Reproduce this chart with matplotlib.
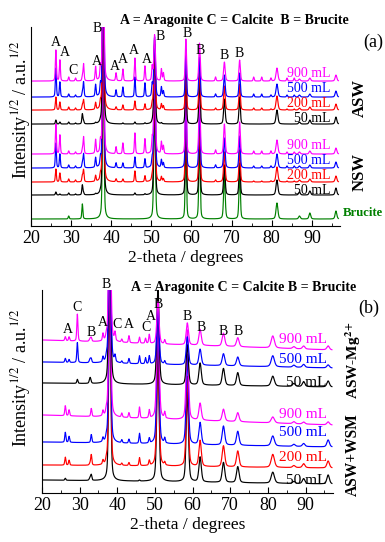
import numpy as np
import matplotlib
matplotlib.use('Agg')
import matplotlib.pyplot as plt
from matplotlib.ticker import MultipleLocator

plt.rcParams['font.family'] = ['Liberation Serif', 'DejaVu Serif']
plt.rcParams['mathtext.fontset'] = 'stix'

# ---- peak positions (2-theta, degrees) ----
arag_a = [26.2, 27.2, 29.4, 31.1, 33.1, 36.1, 37.3, 41.2, 42.9, 45.9,
          48.4, 50.2, 52.5, 53.0, 66.0, 75.5, 77.5, 79.8, 83.8, 85.6]
arag_b = [26.2, 27.2, 29.4, 33.1, 36.2, 37.1, 39.4, 41.2, 43.1, 45.9,
          47.5, 48.5, 52.6]
bruc = [32.8, 38.0, 50.8, 58.6, 62.0, 68.2, 72.0, 81.3, 86.9, 89.5, 96.0]

# ---- panel (a): peak heights (sqrt counts, plot units) ----
a_asw900 = [31, 21, 4, 3, 17, 14, 12, 8, 12, 23, 15, 14, 12, 8, 4, 4, 4, 3, 3, 3]
a_asw500 = [29, 15, 3, 2, 15, 12, 10, 7, 10, 20, 14, 12, 10, 6, 3, 3, 3, 2, 2, 2]
a_asw200 = [13, 8, 3, 2, 10, 7, 6, 3, 5, 9, 6, 6, 6, 4, 2, 2, 2, 1, 1, 1]
a_asw50 = [4, 2, 2, 1, 3, 1, 1, 0, 1, 2, 1, 1, 1, 0, 0, 0, 0, 0, 0, 0]
a_nsw900 = [30, 19, 3, 2, 17, 14, 11, 7, 11, 21, 15, 14, 12, 8, 4, 3, 3, 3, 2, 2]
a_nsw500 = [25, 14, 3, 2, 14, 10, 8, 5, 5, 11, 9, 8, 8, 5, 3, 2, 2, 2, 2, 2]
a_nsw200 = [13, 9, 3, 2, 12, 6, 5, 3, 3, 11, 6, 5, 5, 3, 2, 1, 1, 1, 1, 1]
a_nsw50 = [3, 1, 2, 1, 2, 1, 1, 0, 0, 2, 1, 0, 0, 0, 0, 0, 0, 0, 0, 0]
a_bruc = [0, 0, 3, 0, 0, 0, 0, 0, 0, 0, 0, 0, 0, 0, 0, 0, 0, 0, 0, 0]

b_asw900 = [4, 200, 46, 42, 38, 19, 21, 13, 2, 3, 6]
b_asw500 = [4, 200, 60, 48, 40, 22, 24, 13, 2, 3, 6]
b_asw200 = [5, 200, 70, 50, 42, 24, 26, 14, 2, 3, 6]
b_asw50 = [10, 200, 80, 55, 45, 25, 27, 14, 2, 4, 7]
b_nsw900 = [4, 200, 100, 80, 60, 30, 32, 14, 2, 3, 6]
b_nsw500 = [5, 200, 100, 80, 60, 30, 32, 14, 2, 3, 6]
b_nsw200 = [6, 200, 100, 80, 60, 30, 32, 15, 2, 3, 6]
b_nsw50 = [10, 200, 100, 80, 60, 30, 32, 15, 3, 4, 7]
b_bruc = [15, 200, 120, 90, 75, 45, 48, 16, 3, 6, 8]

# ---- panel (b): peak heights ----
m_900_ac = [4, 4, 27, 3, 7, 4, 8, 3, 7, 6, 5, 9, 4]
m_500_ac = [4, 3, 20, 3, 5, 3, 6, 2, 5, 8, 6, 8, 3]
m_50_ac = [0, 0, 4, 0, 0, 0, 0, 0, 0, 0, 0, 0, 0]
w_900_ac = [10, 6, 0, 8, 5, 5, 0, 4, 5, 11, 0, 8, 6]
w_500_ac = [10, 6, 0, 8, 4, 4, 0, 3, 4, 10, 0, 5, 5]
w_200_ac = [8, 5, 0, 10, 4, 3, 0, 2, 3, 8, 0, 5, 3]
w_50_ac = [2, 0, 0, 5, 0, 0, 0, 0, 0, 1, 0, 0, 0]

m_900_b = [3, 200, 42, 22, 16, 13, 9, 12, 2, 3, 4]
m_500_b = [4, 200, 60, 28, 16, 12, 9, 11, 2, 3, 3]
m_50_b = [6, 200, 100, 40, 22, 17, 13, 10, 3, 5, 6]
w_900_b = [0, 200, 130, 90, 17, 12, 9, 6, 2, 2, 3]
w_500_b = [0, 200, 130, 90, 22, 19, 14, 10, 2, 3, 7]
w_200_b = [2, 200, 130, 90, 26, 21, 16, 13, 2, 4, 7]
w_50_b = [3, 200, 130, 90, 25, 20, 16, 11, 2, 5, 9]

# peak widths (FWHM, degrees)
wid_arag_a = 0.3
wid_bruc_a = [0.3, 0.4, 0.45, 0.35, 0.4, 0.45, 0.4, 0.55, 0.5, 0.5, 0.5]
wid_arag_b = 0.35
wid_bruc_b = [0.5, 0.6, 0.7, 0.7, 0.75, 0.8, 0.8, 1.0, 0.8, 0.8, 0.8]


def pattern(x, pos, hts, wid):
    y = np.zeros_like(x)
    wid = np.broadcast_to(wid, (len(pos),))
    for p, h, w in zip(pos, hts, wid):
        d = (x - p) / w
        y += h * (0.6 * np.exp(-4 * np.log(2) * d ** 2) + 0.4 / (1 + 4 * d ** 2))
    return y


fig = plt.figure(figsize=(3.85, 5.42), dpi=100)
ax1 = fig.add_axes([0.0805, 0.583, 0.8025, 0.367])
ax2 = fig.add_axes([0.109, 0.0904, 0.756, 0.3746])

# ---------------- panel (a) ----------------
xa = np.linspace(20, 96.6, 3000)
# (name, arag heights, bruc heights, baseline, colour, label y)
traces_a = [
    ('Brucite', a_bruc, b_bruc, 7, 'green', None),
    ('50 mL', a_nsw50, b_nsw50, 31, 'black', 36),
    ('200 mL', a_nsw200, b_nsw200, 44, '#ff0000', 51),
    ('500 mL', a_nsw500, b_nsw500, 58, '#0000ff', 66),
    ('900 mL', a_nsw900, b_nsw900, 72, '#ff00ff', 81),
    ('50 mL', a_asw50, b_asw50, 102, 'black', 108),
    ('200 mL', a_asw200, b_asw200, 116, '#ff0000', 123),
    ('500 mL', a_asw500, b_asw500, 129, '#0000ff', 138),
    ('900 mL', a_asw900, b_asw900, 145, '#ff00ff', 153),
]
for name, ha_, hb_, base, col, ly in traces_a:
    y = base + pattern(xa, arag_a, ha_, wid_arag_a) + pattern(xa, bruc, hb_, wid_bruc_a)
    ax1.plot(xa, y, color=col, lw=0.85)
    if ly is not None:
        ax1.text(94.6, ly, name, color=col, ha='right', va='center', fontsize=10)
ax1.text(97.6, 13, 'Brucite', color='green', fontweight='bold', fontsize=9.2,
         ha='left', va='center', clip_on=False)

peak_lab_a = [('A', 26.2, 184), ('A', 28.4, 174), ('C', 30.5, 156), ('A', 36.4, 165),
              ('B', 36.6, 198), ('A', 41.0, 160), ('A', 43.0, 167), ('A', 45.7, 176),
              ('A', 48.9, 167), ('B', 52.2, 190), ('B', 58.9, 193), ('B', 62.1, 176),
              ('B', 68.1, 171), ('B', 71.9, 173)]
for t, px, py in peak_lab_a:
    ax1.text(px, py, t, ha='center', va='center', fontsize=10, clip_on=False)

ax1.set_xlim(20, 97)
ax1.set_ylim(0, 199)

# ---------------- panel (b) ----------------
xb = np.linspace(20.3, 97, 3000)
traces_b = [
    ('50 mL', w_50_ac, w_50_b, 13, 9, 'black', 13),
    ('200 mL', w_200_ac, w_200_b, 28, 25, '#ff0000', 35),
    ('500 mL', w_500_ac, w_500_b, 51, 46, '#0000ff', 60),
    ('900 mL', w_900_ac, w_900_b, 78, 68, '#ff00ff', 78),
    ('50 mL', m_50_ac, m_50_b, 110, 106, 'black', 110),
    ('500 mL', m_500_ac, m_500_b, 131, 125, '#0000ff', 133),
    ('900 mL', m_900_ac, m_900_b, 153, 143, '#ff00ff', 153),
]
for name, ha_, hb_, b0, b1, col, ly in traces_b:
    base = b0 + (b1 - b0) * (xb - 20) / 77
    y = base + pattern(xb, arag_b, ha_, wid_arag_b) + pattern(xb, bruc, hb_, wid_bruc_b)
    ax2.plot(xb, y, color=col, lw=0.85)
    ax2.text(95.6, ly, name, color=col, ha='right', va='center', fontsize=11)

peak_lab_b = [('A', 26.9, 163), ('C', 29.3, 185), ('B', 33.0, 160), ('A', 36.2, 170),
              ('B', 37.0, 208), ('C', 39.9, 168), ('A', 43.1, 168), ('C', 47.6, 165),
              ('A', 48.9, 176), ('B', 50.8, 188), ('B', 58.5, 176), ('B', 62.4, 165),
              ('B', 68.0, 161), ('B', 72.0, 161)]
for t, px, py in peak_lab_b:
    ax2.text(px, py, t, ha='center', va='center', fontsize=10, clip_on=False)

ax2.set_xlim(20, 97.3)
ax2.set_ylim(0, 203)

for ax in (ax1, ax2):
    ax.spines['top'].set_visible(False)
    ax.spines['right'].set_visible(False)
    ax.set_yticks([])
    ax.xaxis.set_major_locator(MultipleLocator(10))
    ax.xaxis.set_minor_locator(MultipleLocator(5))
    ax.tick_params(axis='x', which='major', direction='in', length=4, labelsize=13, pad=3)
    ax.tick_params(axis='x', which='minor', direction='in', length=2.5)
    ax.set_xticks(range(20, 100, 10))
    ax.set_xlabel('2-theta / degrees', fontsize=12.5, labelpad=2)

fig.text(0.608, 0.963, 'A = Aragonite C = Calcite  B = Brucite', ha='center', va='center',
         fontsize=10, fontweight='bold')
fig.text(0.634, 0.469, 'A = Aragonite C = Calcite B = Brucite', ha='center', va='center',
         fontsize=10, fontweight='bold')
fig.text(0.969, 0.921, '(a)', ha='center', va='center', fontsize=13)
fig.text(0.958, 0.432, '(b)', ha='center', va='center', fontsize=13)
fig.text(0.935, 0.819, 'ASW', rotation=90, ha='center', va='center', fontsize=12, fontweight='bold')
fig.text(0.935, 0.683, 'NSW', rotation=90, ha='center', va='center', fontsize=12, fontweight='bold')
fig.text(0.917, 0.336, r'ASW-Mg$^{\mathbf{2+}}$', rotation=90, ha='center', va='center',
         fontsize=11, fontweight='bold')
fig.text(0.917, 0.162, 'ASW+WSM', rotation=90, ha='center', va='center', fontsize=11.2,
         fontweight='bold')
ylab = r'Intensity$^{1/2}$ / a.u.$^{1/2}$'
fig.text(0.055, 0.797, ylab, rotation=90, ha='center', va='center', fontsize=13)
fig.text(0.055, 0.303, ylab, rotation=90, ha='center', va='center', fontsize=13)

fig.savefig('out.png', dpi=100)
